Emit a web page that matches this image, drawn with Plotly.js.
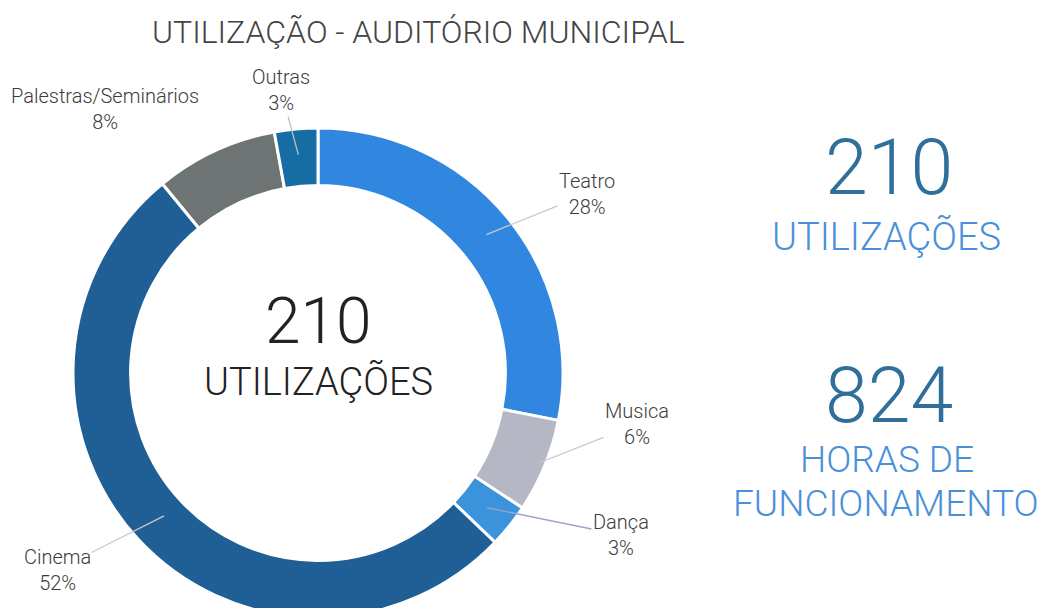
<!DOCTYPE html>
<html>
<head>
<meta charset="utf-8">
<script src="https://cdn.plot.ly/plotly-3.0.1.min.js"></script>
<style>
html,body{margin:0;padding:0;width:1057px;height:608px;overflow:hidden;background:#fff;}
#chart{width:1057px;height:740px;}
</style>
</head>
<body>
<div id="chart"></div>
<script>
// ---- data ----
const categories = ["Teatro", "Musica", "Dança", "Cinema", "Palestras/Seminários", "Outras"];
const utilizacoes = [59, 13, 6, 109, 17, 6];
const colors = ["#3186e0", "#b5b8c4", "#3a93db", "#1f5f96", "#6e7474", "#166da3"];
const totalUtilizacoes = 210;
const totalHoras = 824;
const chartTitle = "UTILIZAÇÃO - AUDITÓRIO MUNICIPAL";

// ---- layout helpers ----
const W = 1057, H = 740;
const cx = 318, cy = 373, R = 245;
const px = x => x / W;
const py = y => 1 - y / H;

const total = utilizacoes.reduce((a, b) => a + b, 0);
const pct = utilizacoes.map(v => Math.round(100 * v / total));

// label placement (layout only): text center and leader radius
const labelPos = [
  {tx: 587, ty: 194, r: 218, line: true},
  {tx: 637, ty: 424, r: 238, line: true},
  {tx: 621, ty: 535, r: 216, line: true},
  {tx: 57,  ty: 570, r: 210, line: true},
  {tx: 105, ty: 109, r: 220, line: false},
  {tx: 281, ty: 90,  r: 219, line: true}
];
const lineColors = ["#c8c8c8", "#c8c8c8", "#9aa6c6", "#c8c8c8", "#c8c8c8", "#b8c0c8"];
const labelFont = {family: "Roboto, Liberation Sans, sans-serif", size: 20, color: "#3c3c3c", weight: 300};

const annotations = [];
let cum = 0;
utilizacoes.forEach((v, i) => {
  const mid = (cum + v / 2) / total * 2 * Math.PI;
  cum += v;
  const p = labelPos[i];
  const tipX = cx + p.r * Math.sin(mid);
  const tipY = cy - p.r * Math.cos(mid);
  const txt = categories[i] + "<br>" + pct[i] + "%";
  if (p.line) {
    annotations.push({
      xref: "paper", yref: "paper",
      x: px(tipX), y: py(tipY),
      ax: p.tx - tipX, ay: p.ty - tipY,
      text: txt, showarrow: true, arrowhead: 0, arrowwidth: 1.3,
      arrowcolor: lineColors[i], standoff: 0, startstandoff: 0,
      font: labelFont, align: "center"
    });
  } else {
    annotations.push({
      xref: "paper", yref: "paper", x: px(p.tx), y: py(p.ty),
      xanchor: "center", yanchor: "middle",
      text: txt, showarrow: false, font: labelFont, align: "center"
    });
  }
});

// central and side texts
const bigFont = "Roboto, Liberation Sans, sans-serif";
annotations.push(
  {xref: "paper", yref: "paper", x: px(cx), y: py(321), xanchor: "center", yanchor: "middle", showarrow: false,
   text: String(totalUtilizacoes), font: {family: bigFont, size: 64, color: "#222222", weight: 300}},
  {xref: "paper", yref: "paper", x: px(cx), y: py(382), xanchor: "center", yanchor: "middle", showarrow: false,
   text: "UTILIZAÇÕES", font: {family: bigFont, size: 38, color: "#222222", weight: 300}},
  {xref: "paper", yref: "paper", x: px(889), y: py(168), xanchor: "center", yanchor: "middle", showarrow: false,
   text: String(totalUtilizacoes), font: {family: bigFont, size: 77, color: "#2f6f9a", weight: 300}},
  {xref: "paper", yref: "paper", x: px(886), y: py(236), xanchor: "center", yanchor: "middle", showarrow: false,
   text: "UTILIZAÇÕES", font: {family: bigFont, size: 38, color: "#4a90d9", weight: 300}},
  {xref: "paper", yref: "paper", x: px(889), y: py(396), xanchor: "center", yanchor: "middle", showarrow: false,
   text: String(totalHoras), font: {family: bigFont, size: 77, color: "#2f6f9a", weight: 300}},
  {xref: "paper", yref: "paper", x: px(887), y: py(459), xanchor: "center", yanchor: "middle", showarrow: false,
   text: "HORAS DE", font: {family: bigFont, size: 37, color: "#4a90d9", weight: 300}},
  {xref: "paper", yref: "paper", x: px(886), y: py(503), xanchor: "center", yanchor: "middle", showarrow: false,
   text: "FUNCIONAMENTO", font: {family: bigFont, size: 37, color: "#4a90d9", weight: 300}},
  {xref: "paper", yref: "paper", x: px(418), y: py(32), xanchor: "center", yanchor: "middle", showarrow: false,
   text: chartTitle, font: {family: bigFont, size: 32, color: "#444444", weight: 300}}
);

const trace = {
  type: "pie",
  labels: categories,
  values: utilizacoes,
  sort: false,
  direction: "clockwise",
  rotation: 0,
  hole: 0.765,
  textinfo: "none",
  hoverinfo: "label+percent",
  marker: {colors: colors, line: {color: "#ffffff", width: 3}},
  domain: {x: [px(cx - R), px(cx + R)], y: [py(cy + R), py(cy - R)]},
  showlegend: false
};

Plotly.newPlot("chart", [trace], {
  width: W, height: H,
  margin: {l: 0, r: 0, t: 0, b: 0},
  paper_bgcolor: "#ffffff",
  showlegend: false,
  annotations: annotations
}, {displayModeBar: false, staticPlot: true});
</script>
</body>
</html>
